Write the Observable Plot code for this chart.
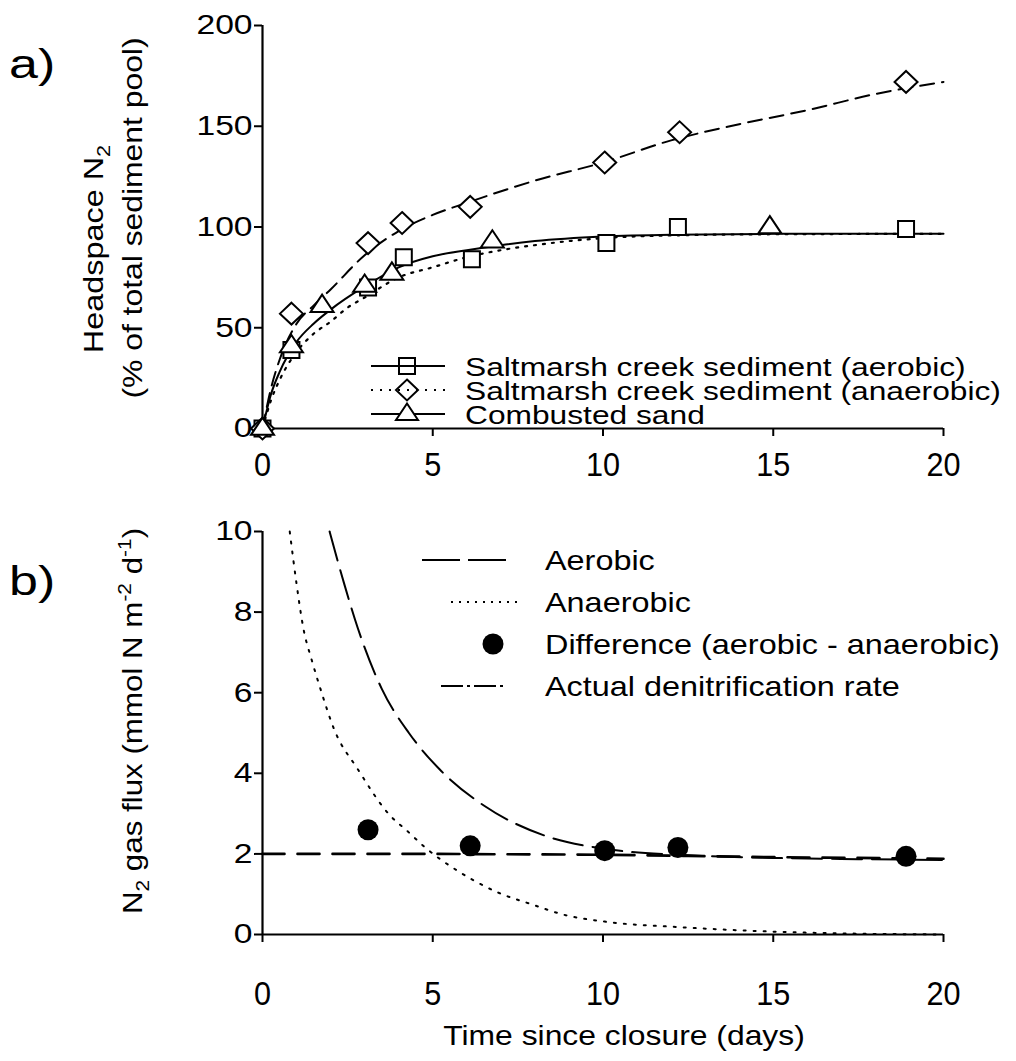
<!DOCTYPE html>
<html>
<head>
<meta charset="utf-8">
<script src="https://cdn.jsdelivr.net/npm/d3@7"></script>
<script src="https://cdn.jsdelivr.net/npm/@observablehq/plot@0.6"></script>
<style>
  html, body { margin: 0; padding: 0; background: #fff; }
  #fig { position: relative; width: 1016px; height: 1061px; overflow: hidden; background: #fff; }
  #fig svg { position: absolute; left: 0; overflow: visible; }
</style>
</head>
<body>
<div id="fig"></div>
<script>
// ---------------- DATA ----------------
const xTicks = [0, 5, 10, 15, 20];
const aYTicks = [0, 50, 100, 150, 200];
const bYTicks = [0, 2, 4, 6, 8, 10];

// Panel a: observations (% of total sediment pool)
const aerT = [0, 0.85, 3.1, 4.15, 6.15, 10.1, 12.2, 18.9];
const aerV = [0, 39, 70, 85, 84, 92, 100, 99];
const anaT = [0, 0.85, 3.1, 4.1, 6.1, 10.05, 12.25, 18.9];
const anaV = [0, 57, 92, 102, 110, 132, 147, 172];
const sandT = [0, 0.85, 1.75, 3.0, 3.8, 6.75, 14.9];
const sandV = [0, 41, 61, 71, 77, 93, 100];

// Panel a: fitted curves
const dashFitT = [0, 0.25, 0.5, 1, 1.5, 2, 3, 4, 5, 6, 8, 10, 12, 14, 16, 18, 20];
const dashFitV = [0, 20, 34, 52, 61, 69, 86, 98, 106, 112, 123, 132, 143, 151, 158, 166, 172];
const dotFitT = [0, 0.25, 0.5, 1, 1.5, 2, 2.5, 3, 4, 5, 6, 7, 8, 10, 12, 15, 20];
const dotFitV = [0, 14, 24, 38, 47, 53, 60, 65, 75, 80, 85, 88.5, 91, 94.5, 95.8, 96.4, 96.6];
const solidFitT = [0, 0.25, 0.5, 1, 1.5, 2, 3, 4, 5, 6, 7, 8, 10, 12, 15, 20];
const solidFitV = [0, 17, 28, 43, 52, 59, 70.5, 80, 85.5, 88.5, 91, 93, 95.3, 96.2, 96.6, 96.6];

// Panel b: fluxes (mmol N m-2 d-1)
const bAerT = [1.97, 2.4, 2.8, 3.5, 4.3, 5.2, 6.5, 8.3, 10.1, 12.4, 15, 17.5, 20];
const bAerV = [10, 8.7, 7.6, 6.1, 5.0, 4.1, 3.2, 2.45, 2.12, 1.97, 1.9, 1.87, 1.85];
const bAnaT = [0.8, 1.0, 1.2, 1.45, 1.7, 2.1, 2.8, 3.75, 4.25, 4.75, 5.25, 5.75, 6.25, 6.95, 7.9, 8.9, 10.05, 12.3, 15.8, 20];
const bAnaV = [10, 8.7, 7.6, 6.8, 6.1, 5.1, 4.1, 2.95, 2.57, 2.18, 1.85, 1.57, 1.32, 1.03, 0.75, 0.48, 0.32, 0.18, 0.05, 0];
const diffT = [3.1, 6.1, 10.05, 12.2, 18.9];
const diffV = [2.6, 2.2, 2.08, 2.16, 1.94];
const actT = [0, 5, 10, 12.5, 15, 20];
const actV = [2.0, 2.0, 1.98, 1.95, 1.92, 1.88];

// Legend labels
const legendA = ["Saltmarsh creek sediment (aerobic)", "Saltmarsh creek sediment (anaerobic)", "Combusted sand"];
const legendB = ["Aerobic", "Anaerobic", "Difference (aerobic - anaerobic)", "Actual denitrification rate"];

// ---------------- HELPERS ----------------
const FONT = "'Liberation Sans', Arial, Helvetica, sans-serif";
const SX = 1.18; // horizontal stretch of the reference lettering
const pts = (T, V) => T.map((t, i) => ({t, v: V[i]}));

const sqSym = {draw(c, s) { const r = Math.sqrt(s / Math.PI); c.moveTo(-r, -r); c.lineTo(r, -r); c.lineTo(r, r); c.lineTo(-r, r); c.closePath(); }};
const dmSym = {draw(c, s) { const r = Math.sqrt(s / Math.PI); c.moveTo(0, -r * 0.95); c.lineTo(r, 0); c.lineTo(0, r * 0.95); c.lineTo(-r, 0); c.closePath(); }};
const trSym = {draw(c, s) { const r = Math.sqrt(s / Math.PI); c.moveTo(0, -r * 0.95); c.lineTo(r, r * 0.55); c.lineTo(-r, r * 0.55); c.closePath(); }};

// widen / narrow glyphs of a text selection without moving its anchor
function stretch(sel, sx) {
  sel.each(function() {
    const len = this.getComputedTextLength();
    if (len > 0) {
      this.setAttribute("textLength", (len * sx).toFixed(2));
      this.setAttribute("lengthAdjust", "spacingAndGlyphs");
    }
  });
}

// ---------------- PANEL A ----------------
const plotA = Plot.plot({
  width: 1016, height: 500,
  marginLeft: 262, marginRight: 73, marginTop: 25, marginBottom: 72,
  x: {domain: [0, 20]},
  y: {domain: [0, 200]},
  style: {fontFamily: FONT, background: "transparent", color: "black", overflow: "visible"},
  marks: [
    Plot.axisY(aYTicks, {tickSize: 8, tickPadding: 2, fontSize: 28, label: null, strokeWidth: 2}),
    Plot.axisX(xTicks, {tickSize: 8, tickPadding: 15, fontSize: 34, label: null, strokeWidth: 2}),
    Plot.ruleX([0], {strokeWidth: 2.2}),
    Plot.ruleY([0], {strokeWidth: 2.2}),
    Plot.line(pts(dotFitT, dotFitV), {x: "t", y: "v", stroke: "black", strokeWidth: 2.2, strokeDasharray: "2,7", curve: "monotone-x"}),
    Plot.line(pts(solidFitT, solidFitV), {x: "t", y: "v", stroke: "black", strokeWidth: 2, curve: "monotone-x"}),
    Plot.line(pts(dashFitT, dashFitV), {x: "t", y: "v", stroke: "black", strokeWidth: 2, strokeDasharray: "14,8", curve: "monotone-x"}),
    Plot.dot(pts(aerT, aerV), {x: "t", y: "v", symbol: sqSym, r: 8, fill: "white", stroke: "black", strokeWidth: 2}),
    Plot.dot(pts(anaT, anaV), {x: "t", y: "v", symbol: dmSym, r: 11.5, fill: "white", stroke: "black", strokeWidth: 2}),
    Plot.dot(pts(sandT, sandV), {x: "t", y: "v", symbol: trSym, r: 11.5, fill: "white", stroke: "black", strokeWidth: 2})
  ]
});

// ---------------- PANEL B ----------------
const plotB = Plot.plot({
  width: 1016, height: 561,
  marginLeft: 262, marginRight: 73, marginTop: 31, marginBottom: 127,
  x: {domain: [0, 20]},
  y: {domain: [0, 10]},
  style: {fontFamily: FONT, background: "transparent", color: "black", overflow: "visible"},
  marks: [
    Plot.axisY(bYTicks, {tickSize: 8, tickPadding: 2, fontSize: 28, label: null, strokeWidth: 2}),
    Plot.axisX(xTicks, {tickSize: 8, tickPadding: 38, fontSize: 34, label: null, strokeWidth: 2}),
    Plot.ruleX([0], {strokeWidth: 2.2}),
    Plot.ruleY([0], {strokeWidth: 2.2}),
    Plot.line(pts(actT, actV), {x: "t", y: "v", stroke: "black", strokeWidth: 2.6, strokeDasharray: "22,13"}),
    Plot.line(pts(bAnaT, bAnaV), {x: "t", y: "v", stroke: "black", strokeWidth: 2, strokeDasharray: "2,8", curve: "monotone-x"}),
    Plot.line(pts(bAerT, bAerV), {x: "t", y: "v", stroke: "black", strokeWidth: 2, strokeDasharray: "30,10", curve: "monotone-x"}),
    Plot.dot(pts(diffT, diffV), {x: "t", y: "v", r: 10.5, fill: "black", stroke: "none"})
  ]
});

const fig = document.getElementById("fig");
plotA.style.top = "0px";
plotB.style.top = "500px";
fig.appendChild(plotA);
fig.appendChild(plotB);

// match the reference glyph proportions of tick labels
for (const p of [plotA, plotB]) {
  stretch(d3.select(p).selectAll('g[aria-label="y-axis tick label"] text'), 1.2);
  stretch(d3.select(p).selectAll('g[aria-label="x-axis tick label"] text'), 0.9);
}

// ---------------- ANNOTATIONS ----------------
function addText(svg, x, y, str, size, opts = {}) {
  const sx = opts.sx || SX;
  const t = svg.append("text")
    .attr("transform", `translate(${x},${y})${opts.rotate ? ` rotate(${opts.rotate})` : ""} scale(${sx},1)`)
    .attr("font-family", FONT).attr("font-size", size).attr("fill", "black")
    .attr("text-anchor", opts.anchor || "start");
  if (Array.isArray(str)) {
    for (const part of str) {
      const ts = t.append("tspan").text(part.t);
      if (part.size) ts.attr("font-size", part.size);
      if (part.dy) ts.attr("dy", part.dy);
    }
  } else t.text(str);
  return t;
}

const sa = d3.select(plotA);
const sb = d3.select(plotB);

// panel letters
addText(sa, 9, 78, "a)", 40, {sx: 1.3});
addText(sb, 9, 595 - 500, "b)", 40, {sx: 1.3});

// y titles
addText(sa, 103, 249, [{t: "Headspace N"}, {t: "2", size: 18, dy: 7}], 27, {rotate: -90, anchor: "middle", sx: 1.2});
addText(sa, 142, 218, "(% of total sediment pool)", 27, {rotate: -90, anchor: "middle"});
addText(sb, 142, 721 - 500, [
  {t: "N"}, {t: "2", size: 18, dy: 7}, {t: " gas flux (mmol N m", dy: -7},
  {t: "-2", size: 18, dy: -11}, {t: " d", dy: 11}, {t: "-1", size: 18, dy: -11}, {t: ")", dy: 11}
], 27, {rotate: -90, anchor: "middle", sx: 1.16});

// x title
addText(sb, 624, 1045 - 500, "Time since closure (days)", 27, {anchor: "middle"});

// ---- legend panel a ----
const legAy = [366, 390, 414];
const legAdash = ["none", "2,7", "none"];
const legAsym = [sqSym, dmSym, trSym];
const legAr = [8, 11, 11];
legendA.forEach((lab, i) => {
  const y = legAy[i];
  sa.append("line").attr("x1", 371).attr("x2", 445).attr("y1", y).attr("y2", y)
    .attr("stroke", "black").attr("stroke-width", 2).attr("stroke-dasharray", legAdash[i]);
  sa.append("path").attr("transform", `translate(407,${y})`)
    .attr("d", d3.symbol(legAsym[i], Math.PI * legAr[i] * legAr[i])())
    .attr("fill", i === 2 ? "white" : "none").attr("stroke", "black").attr("stroke-width", 2);
  addText(sa, 465, y + 9.5, lab, 26, {sx: 1.22});
});

// ---- legend panel b ----
const legBy = [560, 602, 644, 686].map(d => d - 500);
legendB.forEach((lab, i) => {
  const y = legBy[i];
  if (i === 0) sb.append("line").attr("x1", 422).attr("x2", 506).attr("y1", y).attr("y2", y)
    .attr("stroke", "black").attr("stroke-width", 2).attr("stroke-dasharray", "38,8");
  if (i === 1) sb.append("line").attr("x1", 451).attr("x2", 522).attr("y1", y).attr("y2", y)
    .attr("stroke", "black").attr("stroke-width", 2).attr("stroke-dasharray", "2,6");
  if (i === 2) sb.append("circle").attr("cx", 493).attr("cy", y).attr("r", 10.5).attr("fill", "black");
  if (i === 3) sb.append("line").attr("x1", 441).attr("x2", 506).attr("y1", y).attr("y2", y)
    .attr("stroke", "black").attr("stroke-width", 2).attr("stroke-dasharray", "22,4,3,4");
  addText(sb, 545, y + 10, lab, 27, {sx: 1.2});
});
</script>
</body>
</html>
